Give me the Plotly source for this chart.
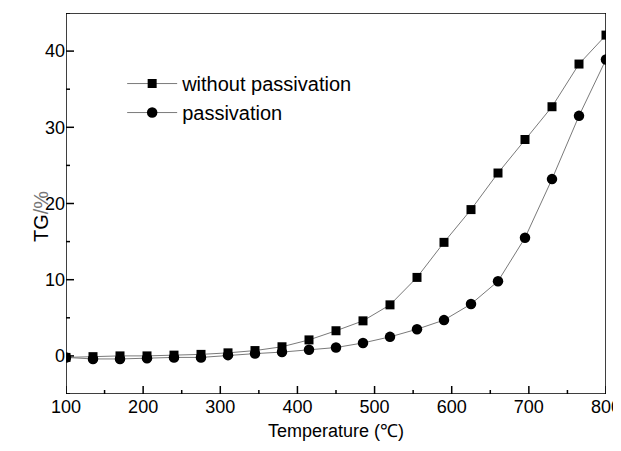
import plotly.graph_objects as go

temperature = [100, 135, 170, 205, 240, 275, 310, 345, 380, 415, 450,
               485, 520, 555, 590, 625, 660, 695, 730, 765, 800]
tg_without = [-0.2, -0.1, 0.0, 0.0, 0.1, 0.2, 0.4, 0.7, 1.2, 2.1, 3.3,
              4.6, 6.7, 10.3, 14.9, 19.2, 24.0, 28.4, 32.7, 38.3, 42.1]
tg_passiv = [-0.2, -0.4, -0.4, -0.3, -0.2, -0.2, 0.1, 0.3, 0.5, 0.8, 1.1,
             1.7, 2.5, 3.5, 4.7, 6.8, 9.8, 15.5, 23.2, 31.5, 38.9]
names = ["without passivation", "passivation"]
x_ticks = [100, 200, 300, 400, 500, 600, 700, 800]
x_minor = [150, 250, 350, 450, 550, 650, 750]
y_ticks = [0, 10, 20, 30, 40]
y_minor = [-5, 5, 15, 25, 35, 45]
x_range = [100, 800]
y_range = [-5, 45]

FONT = "Arial, 'Liberation Sans', sans-serif"

W, H = 613, 435
M = dict(l=58, r=15, t=5, b=49)
plot_w = W - M["l"] - M["r"]
plot_h = H - M["t"] - M["b"]
x_per_px = (x_range[1] - x_range[0]) / plot_w
y_per_px = (y_range[1] - y_range[0]) / plot_h

fig = go.Figure()
fig.add_trace(go.Scatter(
    x=temperature, y=tg_without, name=names[0], mode="lines+markers",
    line=dict(color="#7a7a7a", width=1),
    marker=dict(symbol="square", size=9, color="black"),
))
fig.add_trace(go.Scatter(
    x=temperature, y=tg_passiv, name=names[1], mode="lines+markers",
    line=dict(color="#7a7a7a", width=1),
    marker=dict(symbol="circle", size=10.5, color="black"),
))

# axis frame and inside tick marks, built from the range / tick arrays
fx, fy = [], []
for vals, ln in ((x_ticks, 8), (x_minor, 4)):
    for v in vals:
        fx += [v, v, None]
        fy += [y_range[0], y_range[0] + ln * y_per_px, None]
for vals, ln in ((y_ticks, 8), (y_minor, 4)):
    for v in vals:
        fx += [x_range[0], x_range[0] + ln * x_per_px, None]
        fy += [v, v, None]
fx += [x_range[0], x_range[1], x_range[1], x_range[0], x_range[0]]
fy += [y_range[0], y_range[0], y_range[1], y_range[1], y_range[0]]
fig.add_trace(go.Scatter(
    x=fx, y=fy, mode="lines", line=dict(color="black", width=1.5),
    showlegend=False, hoverinfo="skip", cliponaxis=False, connectgaps=False,
))

axis_common = dict(
    showline=False, ticks="", showgrid=False, zeroline=False, automargin=False,
    ticklabeloverflow="allow",
    tickfont=dict(family=FONT, size=18, color="black"),
)

fig.update_xaxes(
    range=x_range, tickvals=x_ticks,
    title=dict(text="Temperature (℃)", font=dict(family=FONT, size=18, color="black"), standoff=8),
    **axis_common,
)
fig.update_yaxes(range=y_range, tickvals=y_ticks, **axis_common)

fig.add_annotation(
    text="TG<span style='color:#777'>/%</span>", textangle=-90,
    xref="paper", yref="paper", x=-0.046, y=0.465,
    xanchor="center", yanchor="middle", showarrow=False,
    font=dict(family=FONT, size=20, color="black"),
)

fig.update_layout(
    template="none",
    width=W, height=H,
    margin=M,
    plot_bgcolor="white", paper_bgcolor="white",
    showlegend=True,
    legend=dict(
        x=0.104, y=0.866, xanchor="left", yanchor="top",
        font=dict(family=FONT, size=20, color="black"),
        bgcolor="rgba(0,0,0,0)", itemwidth=50, tracegroupgap=0,
    ),
)

fig.write_html("out.html")
